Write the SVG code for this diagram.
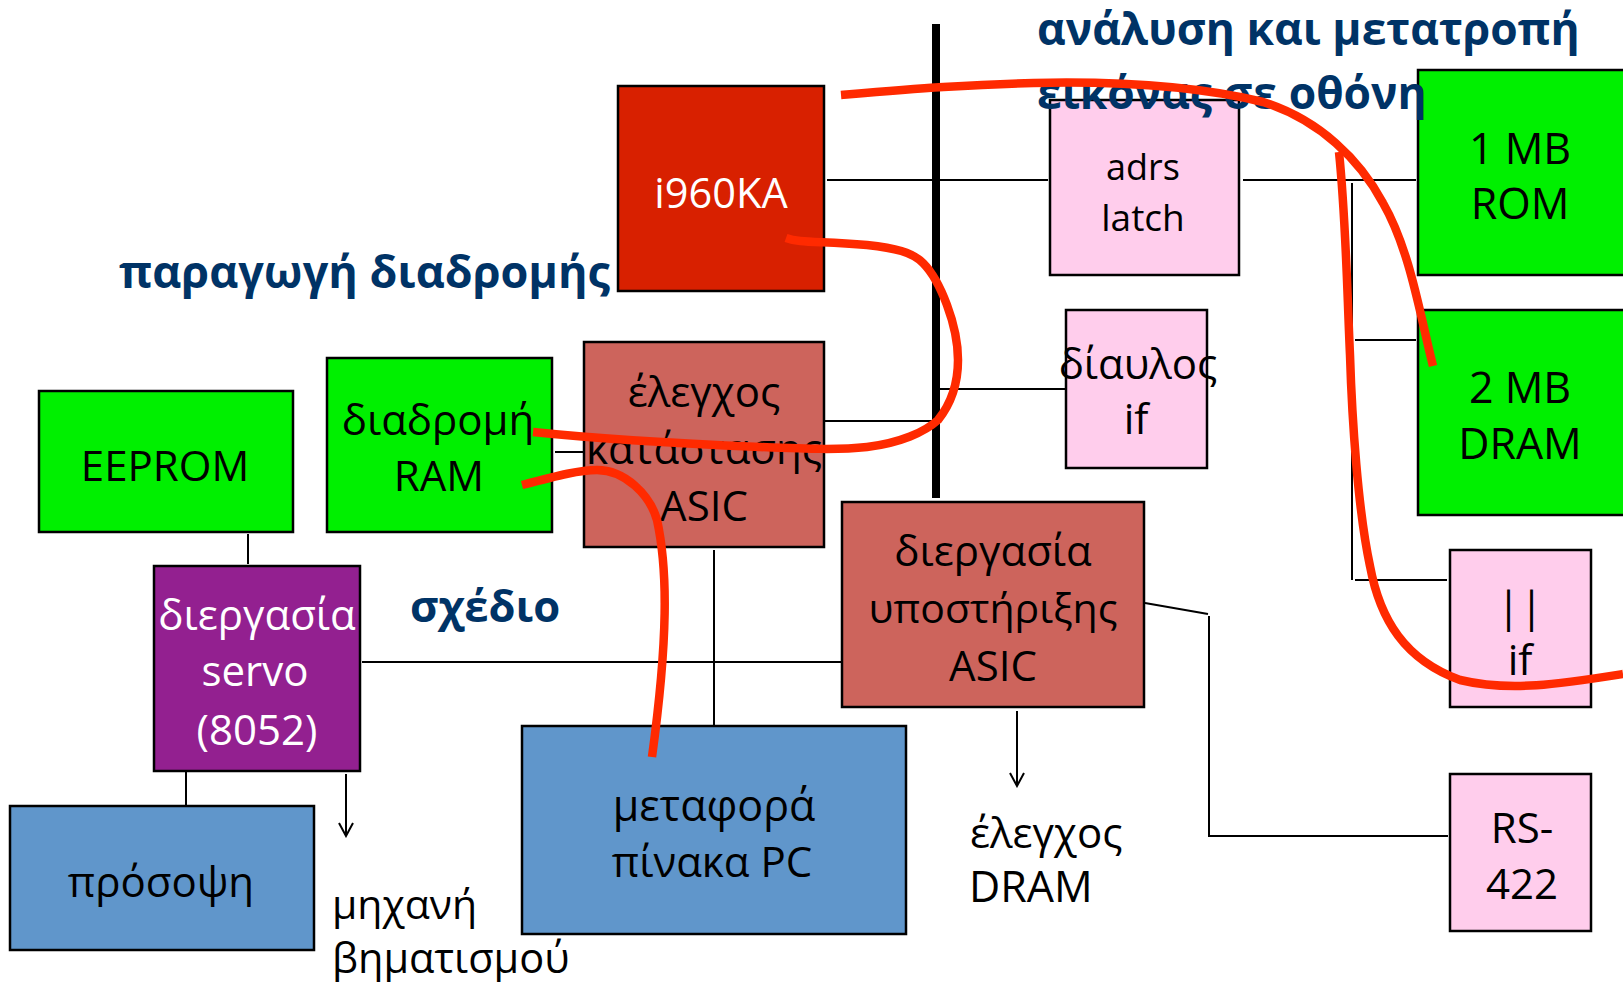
<svg xmlns="http://www.w3.org/2000/svg" width="1623" height="982" viewBox="0 0 1623 982">
<style>
text{font-family:"Open Sans","Noto Sans","DejaVu Sans",sans-serif;font-size:42px;fill:#000;text-anchor:middle}
.b{stroke:#000;stroke-width:2.5}
.l{stroke:#000;stroke-width:2;fill:none}
.r{stroke:#ff2a00;stroke-width:8.5;fill:none}
text.h{font-weight:700;fill:#003366;font-size:44.4px;text-anchor:start}
text.s{text-anchor:start}
text.w{fill:#fff}
text.m{font-size:43px}
.g{fill:#00f000}.p{fill:#ffcdec}.a{fill:#cd645c}.u{fill:#6096cb}
</style>
<defs><marker id="a" markerWidth="16" markerHeight="18" refX="13" refY="8" orient="auto" markerUnits="userSpaceOnUse"><path d="M1 1L14 8L1 15" fill="none" stroke="#000" stroke-width="2"/></marker></defs>
<g id="connectors">
<path d="M936 24V498" stroke="#000" stroke-width="8" fill="none"/>
<path class="l" d="M827 180H1048M1243 180H1416M1352 183V580M1355 580H1447M1355 340H1416M937 389H1066M823 421H936M555 452H610M714 550V726M248 534V564M362 662H842M1145 603L1208 614M1209 616V836H1448M186 770V806"/>
<path class="l" d="M346 774V835" marker-end="url(#a)"/><path class="l" d="M1017 711V785" marker-end="url(#a)"/>
</g>
<g id="i960"><rect class="b" x="618" y="86" width="206" height="205" fill="#d82000"/><text class="w" x="721" y="208" style="font-size:41.5px">i960KA</text></g>
<g id="adrs"><rect class="b p" x="1050" y="100" width="189" height="175"/><text x="1143" y="180" style="font-size:36px">adrs</text><text x="1143" y="231" style="font-size:37px">latch</text></g>
<g id="rom"><rect class="b g" x="1418" y="70" width="207" height="205"/><text class="m" x="1520" y="164">1 MB</text><text class="m" x="1520" y="219">ROM</text></g>
<g id="dram"><rect class="b g" x="1418" y="310" width="207" height="205"/><text class="m" x="1520" y="403">2 MB</text><text class="m" x="1520" y="459">DRAM</text></g>
<g id="diaulos"><rect class="b p" x="1066" y="310" width="141" height="158"/><text x="1138" y="379">δίαυλος</text><text x="1136" y="434">if</text></g>
<g id="par"><rect class="b p" x="1450" y="550" width="141" height="157"/><text x="1520" y="622" style="word-spacing:-11px">| |</text><text x="1520" y="675">if</text></g>
<g id="rs"><rect class="b p" x="1450" y="774" width="141" height="157"/><text x="1522" y="843">RS-</text><text x="1522" y="899">422</text></g>
<g id="eeprom"><rect class="b g" x="39" y="391" width="254" height="141"/><text x="165" y="481">EEPROM</text></g>
<g id="ram"><rect class="b g" x="327" y="358" width="225" height="174"/><text x="438" y="435">διαδρομή</text><text x="439" y="491">RAM</text></g>
<g id="status"><rect class="b a" x="584" y="342" width="240" height="205"/><text x="704" y="407">έλεγχος</text><text x="704" y="464">κατάστασης</text><text x="704" y="521">ASIC</text></g>
<g id="support"><rect class="b a" x="842" y="502" width="302" height="205"/><text x="993" y="566">διεργασία</text><text x="993" y="623" style="font-size:41px">υποστήριξης</text><text x="993" y="681">ASIC</text></g>
<g id="servo"><rect class="b" x="154" y="566" width="206" height="205" fill="#932090"/><text class="w" x="257" y="630">διεργασία</text><text class="w" x="255" y="686">servo</text><text class="w" x="257" y="745">(8052)</text></g>
<g id="front"><rect class="b u" x="10" y="806" width="304" height="144"/><text x="161" y="897">πρόσοψη</text></g>
<g id="pc"><rect class="b u" x="522" y="726" width="384" height="208"/><text class="m" x="714" y="821">μεταφορά</text><text x="712" y="877">πίνακα PC</text></g>
<g id="labels">
<text x="1037" y="45" class="h">ανάλυση και μετατροπή</text><text x="1037" y="109" class="h">εικόνας σε οθόνη</text>
<text x="119" y="288" class="h" style="font-size:45px">παραγωγή διαδρομής</text><text x="410" y="622" class="h" style="font-size:43.6px">σχέδιο</text>
<text x="970" y="848" class="s">έλεγχος</text><text x="969" y="902" class="s" style="font-size:43px">DRAM</text>
<text x="332" y="919" class="s" style="font-size:41px">μηχανή</text><text x="332" y="973" class="s" style="font-size:41.5px">βηματισμού</text>
</g>
<g id="strokes">
<path class="r" d="M841 95C960 85 1130 70 1263 102C1320 120 1360 160 1383 203C1410 250 1420 315 1433 366"/>
<path class="r" d="M786 238C800 243 815 241 867 245C895 248 912 252 923 263C940 280 958 325 958 360C958 385 950 405 938 420C925 432 900 443 867 447C840 450 810 449 760 447C690 444 600 439 533 432"/>
<path class="r" d="M522 485C560 475 580 470 597 470C625 470 650 495 657 520C668 570 668 640 652 757"/>
<path class="r" d="M1339 152C1346 220 1347 290 1350 355C1352 420 1358 510 1370 566C1380 620 1405 660 1460 680C1510 692 1560 684 1623 674"/>
</g>
</svg>
